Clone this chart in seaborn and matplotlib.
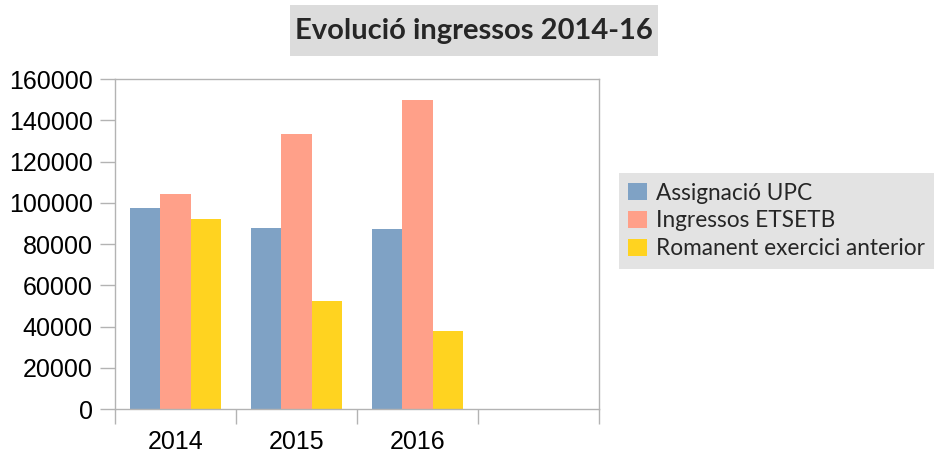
import pandas as pd
import matplotlib.pyplot as plt
from matplotlib.patches import Rectangle
from matplotlib.ticker import FixedLocator
import seaborn as sns

years = ["2014", "2015", "2016"]
series = ["Assignació UPC", "Ingressos ETSETB", "Romanent exercici anterior"]
assignacio = [97500, 87700, 87300]
ingressos = [104200, 133300, 149800]
romanent = [92100, 52300, 37800]
yticks = [0, 20000, 40000, 60000, 80000, 100000, 120000, 140000, 160000]
colors = ["#7fa2c5", "#ffa089", "#ffd320"]

df = pd.DataFrame({
    "year": years * 3,
    "serie": [s for s in series for _ in years],
    "value": assignacio + ingressos + romanent,
})

sns.set_theme(style="white")
plt.rcParams["font.family"] = ["Liberation Sans", "DejaVu Sans"]

fig = plt.figure(figsize=(9.35, 4.53), dpi=100)
ax = fig.add_axes([0.123, 0.097, 0.5176, 0.7286])

sns.barplot(data=df, x="year", y="value", hue="serie", order=years,
            hue_order=series, palette=colors, width=0.76, saturation=1,
            linewidth=0, ax=ax, legend=True)

ax.set_xlim(-0.5, 3.5)
ax.set_ylim(0, 160000)
ax.set_yticks(yticks)
ax.set_yticklabels([str(v) for v in yticks], fontsize=18)
ax.set_xlabel("")
ax.set_ylabel("")

# category boundaries as major ticks, labels on minor ticks
ax.xaxis.set_major_locator(FixedLocator([-0.5, 0.5, 1.5, 2.5, 3.5]))
ax.set_xticklabels([])
ax.set_xticks(range(len(years)), minor=True)
ax.set_xticklabels(years, minor=True, fontsize=18)
ax.tick_params(axis="x", which="major", bottom=True, length=11, width=1,
               color="#b3b3b3", direction="out")
ax.tick_params(axis="x", which="minor", bottom=True, length=0, pad=15, labelcolor="black")
ax.tick_params(axis="y", left=True, length=11, width=1, color="#b3b3b3",
               direction="out", pad=5, labelcolor="black")

for sp in ax.spines.values():
    sp.set_visible(True)
    sp.set_color("#b3b3b3")
    sp.set_linewidth(1)

# legend
handles, labels = ax.get_legend_handles_labels()
ax.get_legend().remove()
leg = fig.legend(handles, labels, loc="upper left", bbox_to_anchor=(0.662, 0.618),
                 frameon=True, fancybox=False, facecolor="#dcdcdc", edgecolor="#dcdcdc",
                 prop={"family": "Lato", "size": 16.3}, handlelength=0.8, handleheight=0.8,
                 handletextpad=0.4, labelspacing=0.3, borderpad=0.42, borderaxespad=0)
leg.get_frame().set_linewidth(0)

# title box
fig.patches.append(Rectangle((290 / 935, 1 - 56 / 453), 368 / 935, 51 / 453,
                             transform=fig.transFigure, facecolor="#dcdcdc",
                             edgecolor="none", zorder=0))
fig.text(474 / 935, 1 - 31 / 453, "Evolució ingressos 2014-16", ha="center", va="center",
         fontsize=21, fontweight="bold", family="Lato")

fig.savefig("out.png", dpi=100)
